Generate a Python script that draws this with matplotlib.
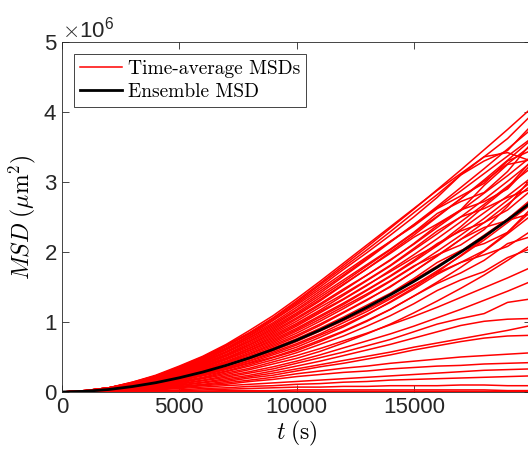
import matplotlib
matplotlib.use('Agg')
import matplotlib.pyplot as plt
import numpy as np

# sample times (s)
t = np.arange(0, 20001, 1000)

# ensemble MSD (x1e6 um^2)
ensemble = [0, .010, .036, .078, .133, .203, .285, .380, .488, .608, .740,
            .884, 1.040, 1.209, 1.388, 1.579, 1.782, 1.998, 2.220, 2.457, 2.708]

# time-average MSDs (x1e6 um^2)
upper_curves = [
    [0, .02, .06, .14, .24, .37, .51, .68, .88, 1.09, 1.33, 1.58, 1.84, 2.10, 2.36, 2.62, 2.88, 3.12, 3.36, 3.42, 3.30],
    [0, .02, .06, .14, .23, .36, .50, .67, .85, 1.06, 1.30, 1.55, 1.81, 2.07, 2.34, 2.61, 2.89, 3.17, 3.46, 3.75, 4.05],
    [0, .02, .06, .13, .23, .35, .48, .65, .83, 1.03, 1.26, 1.50, 1.75, 1.99, 2.24, 2.50, 2.78, 3.10, 3.30, 3.45, 3.80],
    [0, .02, .06, .13, .23, .35, .49, .66, .84, 1.05, 1.28, 1.53, 1.78, 2.03, 2.29, 2.56, 2.82, 3.10, 3.36, 3.62, 3.95],
    [0, .02, .06, .13, .22, .34, .48, .63, .81, 1.02, 1.24, 1.47, 1.70, 1.93, 2.15, 2.37, 2.62, 2.80, 2.98, 3.30, 3.45],
    [0, .02, .06, .13, .22, .33, .46, .62, .80, .99, 1.21, 1.44, 1.67, 1.91, 2.15, 2.39, 2.63, 2.87, 3.12, 3.37, 3.62],
    [0, .02, .06, .12, .21, .32, .46, .61, .78, .97, 1.18, 1.41, 1.65, 1.89, 2.14, 2.39, 2.65, 2.92, 3.19, 3.47, 3.75],
    [0, .02, .06, .12, .21, .32, .45, .60, .77, .95, 1.16, 1.38, 1.60, 1.82, 2.04, 2.28, 2.55, 2.72, 2.85, 3.15, 3.55],
    [0, .02, .06, .12, .20, .31, .44, .58, .75, .93, 1.13, 1.35, 1.57, 1.80, 2.03, 2.27, 2.51, 2.76, 3.01, 3.26, 3.52],
    [0, .02, .05, .12, .20, .30, .43, .57, .73, .91, 1.11, 1.32, 1.54, 1.76, 1.98, 2.21, 2.40, 2.60, 2.95, 3.25, 3.32],
    [0, .01, .05, .11, .20, .30, .42, .56, .72, .89, 1.09, 1.30, 1.53, 1.76, 2.00, 2.24, 2.50, 2.76, 3.03, 3.31, 3.60],
    [0, .01, .05, .11, .19, .29, .41, .54, .70, .87, 1.06, 1.26, 1.47, 1.67, 1.88, 2.12, 2.38, 2.60, 2.72, 2.90, 3.25],
    [0, .01, .05, .11, .19, .28, .40, .53, .68, .85, 1.04, 1.24, 1.45, 1.67, 1.89, 2.11, 2.35, 2.59, 2.84, 3.09, 3.36],
    [0, .01, .05, .11, .18, .28, .39, .52, .67, .83, 1.01, 1.21, 1.40, 1.60, 1.81, 2.05, 2.30, 2.50, 2.62, 2.78, 2.90],
    [0, .01, .05, .10, .18, .27, .38, .51, .65, .81, .98, 1.17, 1.38, 1.59, 1.80, 2.03, 2.26, 2.50, 2.75, 3.01, 3.28],
    [0, .01, .05, .10, .17, .26, .37, .49, .63, .79, .96, 1.15, 1.33, 1.53, 1.72, 1.92, 2.10, 2.36, 2.65, 2.92, 3.30],
    [0, .01, .05, .10, .17, .26, .36, .48, .62, .77, .94, 1.13, 1.32, 1.52, 1.74, 1.96, 2.19, 2.43, 2.68, 2.94, 3.20],
    [0, .01, .04, .10, .16, .25, .35, .47, .60, .75, .91, 1.09, 1.27, 1.46, 1.66, 1.88, 2.12, 2.30, 2.42, 2.60, 2.88],
    [0, .01, .04, .09, .16, .24, .34, .46, .59, .73, .89, 1.07, 1.25, 1.45, 1.65, 1.86, 2.09, 2.32, 2.56, 2.80, 3.06],
    [0, .01, .04, .09, .16, .24, .33, .44, .57, .71, .87, 1.04, 1.22, 1.40, 1.59, 1.80, 1.96, 2.10, 2.32, 2.65, 3.05],
    [0, .01, .04, .09, .15, .23, .32, .43, .55, .69, .84, 1.01, 1.19, 1.38, 1.58, 1.79, 2.01, 2.24, 2.48, 2.74, 3.00],
    [0, .01, .04, .09, .15, .22, .31, .42, .54, .67, .81, .97, 1.14, 1.32, 1.50, 1.72, 1.95, 2.18, 2.35, 2.45, 2.55],
    [0, .01, .04, .08, .14, .22, .30, .41, .52, .65, .79, .95, 1.13, 1.31, 1.51, 1.72, 1.94, 2.18, 2.42, 2.68, 2.95],
    [0, .01, .04, .08, .14, .21, .29, .39, .50, .63, .76, .91, 1.07, 1.24, 1.41, 1.62, 1.85, 2.02, 2.12, 2.28, 2.58],
    [0, .01, .04, .08, .13, .20, .29, .38, .49, .61, .74, .89, 1.05, 1.22, 1.40, 1.60, 1.80, 2.01, 2.24, 2.47, 2.72],
    [0, .01, .03, .08, .13, .20, .28, .37, .47, .59, .72, .87, 1.02, 1.18, 1.35, 1.53, 1.70, 1.85, 2.02, 2.28, 2.62],
    [0, .01, .03, .07, .12, .19, .27, .35, .45, .57, .69, .83, .99, 1.15, 1.33, 1.52, 1.73, 1.94, 2.17, 2.42, 2.68],
    [0, .01, .03, .07, .12, .18, .26, .34, .44, .55, .67, .81, .95, 1.11, 1.28, 1.47, 1.68, 1.85, 1.96, 2.08, 2.30],
    [0, .01, .03, .07, .12, .18, .25, .33, .42, .53, .64, .78, .93, 1.10, 1.29, 1.49, 1.71, 1.95, 2.20, 2.47, 2.75],
    [0, .01, .03, .06, .11, .17, .24, .32, .41, .50, .61, .74, .87, 1.02, 1.18, 1.37, 1.55, 1.70, 1.88, 2.12, 2.22],
    [0, .01, .03, .06, .11, .16, .23, .30, .39, .49, .59, .72, .86, 1.01, 1.18, 1.37, 1.57, 1.78, 2.01, 2.26, 2.52],
    [0, .01, .03, .06, .10, .15, .21, .29, .37, .46, .56, .68, .80, .94, 1.09, 1.26, 1.45, 1.60, 1.72, 1.92, 2.05],
    [0, .01, .03, .06, .09, .14, .20, .27, .34, .43, .52, .62, .73, .84, .96, 1.08, 1.21, 1.35, 1.49, 1.63, 1.78],
    [0, .01, .02, .05, .09, .13, .19, .25, .32, .40, .48, .58, .70, .83, .97, 1.13, 1.30, 1.48, 1.67, 1.88, 2.10],
    [0, .01, .02, .05, .08, .12, .17, .23, .29, .36, .44, .53, .63, .73, .83, .94, 1.06, 1.18, 1.31, 1.44, 1.58],
]

lower_curves = [
    [0, .01, .02, .04, .07, .11, .16, .21, .27, .33, .41, .49, .57, .66, .75, .86, .97, 1.05, 1.12, 1.28, 1.33],
    [0, .01, .02, .04, .07, .10, .14, .19, .24, .30, .37, .44, .52, .60, .68, .77, .86, .95, 1.01, 1.04, 1.05],
    [0, .00, .02, .04, .06, .09, .13, .17, .22, .27, .33, .39, .45, .51, .57, .64, .70, .76, .82, .88, .95],
    [0, .00, .01, .03, .05, .08, .11, .15, .20, .24, .30, .36, .41, .47, .53, .60, .66, .72, .77, .80, .81],
    [0, .00, .01, .03, .05, .07, .10, .13, .17, .21, .26, .30, .34, .37, .41, .44, .47, .50, .52, .54, .56],
    [0, .00, .01, .02, .04, .06, .09, .11, .15, .18, .22, .25, .28, .30, .33, .35, .37, .38, .40, .41, .42],
    [0, .00, .01, .02, .03, .05, .07, .09, .11, .13, .15, .17, .19, .21, .23, .25, .27, .29, .31, .32, .33],
    [0, .00, .01, .01, .02, .03, .05, .06, .08, .09, .11, .12, .14, .15, .17, .18, .19, .20, .21, .22, .23],
    [0, .00, .00, .01, .01, .02, .03, .04, .05, .06, .07, .07, .08, .08, .09, .09, .09, .10, .10, .09, .09],
    [0, .00, .00, .00, .01, .01, .01, .02, .02, .02, .03, .03, .03, .03, .03, .03, .03, .03, .03, .02, .02],
    [0, .00, .00, .00, .00, .01, .01, .01, .01, .01, .01, .01, .01, .01, .01, .01, .01, .01, .01, .01, .01],
]

plt.rcParams['font.family'] = 'Liberation Sans'
plt.rcParams['mathtext.fontset'] = 'cm'

fig = plt.figure(figsize=(5.28, 4.57), dpi=100)
ax = fig.add_axes([62 / 528, 65 / 457, 469 / 528, 350 / 457])

scale = 1e6
first = True
for curve in upper_curves + lower_curves:
    ax.plot(t, np.array(curve) * scale, color='red', lw=1.1,
            label='Time-average MSDs' if first else None)
    first = False
ax.plot(t, np.array(ensemble) * scale, color='black', lw=2.0, label='Ensemble MSD')

ax.set_xlim(0, 20000)
ax.set_ylim(0, 5e6)
ax.set_xticks([0, 5000, 10000, 15000])
ax.set_yticks([0, 1e6, 2e6, 3e6, 4e6, 5e6])
ax.ticklabel_format(axis='y', style='sci', scilimits=(6, 6), useMathText=True)
ax.yaxis.get_offset_text().set_fontsize(16)
ax.yaxis.get_offset_text().set_color('0.15')

ax.tick_params(direction='in', top=True, right=True, length=5, width=0.6,
               color='0.15', labelcolor='0.15', labelsize=16)
for s in ax.spines.values():
    s.set_color('0.15')
    s.set_linewidth(0.6)

ax.set_xlabel(r'$t\;(\mathrm{s})$', fontsize=17, labelpad=1)
ax.set_ylabel(r'$MSD\;(\mu\mathrm{m}^2)$', fontsize=17, labelpad=4)

leg = ax.legend(loc='upper left', prop={'family': 'cmr10', 'size': 14},
                fancybox=False, edgecolor='0.15', framealpha=1,
                handlelength=2.2, borderaxespad=0.6, borderpad=0.3,
                labelspacing=0.3, handletextpad=0.3)
leg.get_frame().set_linewidth(0.6)

fig.savefig('out.png', dpi=100)
